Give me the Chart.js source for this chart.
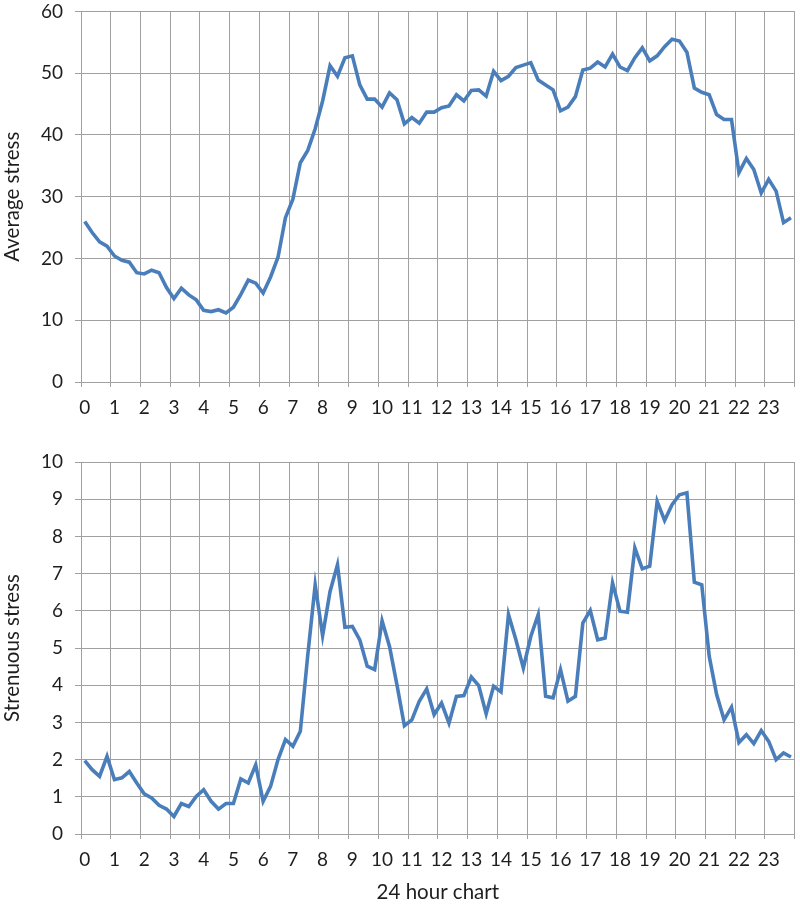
<!DOCTYPE html>
<html>
<head>
<meta charset="utf-8">
<script src="https://cdn.jsdelivr.net/npm/chart.js@4"></script>
<style>
  body { margin: 0; background: #fff; overflow: hidden; }
  canvas { position: absolute; left: 0; }
  #avg { top: -12px; }
  #strain { top: 430px; }
</style>
</head>
<body>
<canvas id="avg" width="800" height="442"></canvas>
<canvas id="strain" width="800" height="475"></canvas>
<script>
const hours = ['0', '1', '2', '3', '4', '5', '6', '7', '8', '9', '10', '11',
  '12', '13', '14', '15', '16', '17', '18', '19', '20', '21', '22', '23'];

// four samples an hour (every 15 minutes)
const avgStress = [
  26.0, 24.2, 22.7, 22.0, 20.4, 19.7, 19.4, 17.7, 17.5, 18.1, 17.7, 15.3,
  13.5, 15.2, 14.1, 13.3, 11.6, 11.4, 11.7, 11.2, 12.1, 14.2, 16.5, 16.0,
  14.4, 17.0, 20.2, 26.6, 29.6, 35.5, 37.5, 41.0, 45.5, 51.2, 49.5, 52.5,
  52.8, 48.1, 45.8, 45.8, 44.5, 46.8, 45.7, 41.8, 42.8, 41.9, 43.7, 43.7,
  44.4, 44.7, 46.5, 45.5, 47.2, 47.3, 46.3, 50.3, 48.8, 49.5, 50.9, 51.3,
  51.7, 48.9, 48.1, 47.3, 43.9, 44.5, 46.2, 50.5, 50.8, 51.8, 51.0, 53.1,
  51.0, 50.4, 52.5, 54.1, 52.0, 52.8, 54.3, 55.5, 55.2, 53.4, 47.6, 46.9,
  46.5, 43.3, 42.5, 42.5, 33.9, 36.2, 34.4, 30.6, 32.8, 30.9, 25.8, 26.6
];

const strenuousStress = [
  1.97, 1.73, 1.55, 2.09, 1.46, 1.51, 1.68, 1.37, 1.08, 0.97, 0.77, 0.67,
  0.47, 0.82, 0.74, 1.01, 1.19, 0.88, 0.67, 0.82, 0.82, 1.48, 1.37, 1.86,
  0.88, 1.28, 2.00, 2.54, 2.36, 2.76, 4.80, 6.70, 5.33, 6.52, 7.24, 5.56,
  5.58, 5.22, 4.51, 4.42, 5.73, 5.04, 4.01, 2.91, 3.07, 3.57, 3.90, 3.21,
  3.52, 2.98, 3.70, 3.72, 4.22, 3.99, 3.23, 3.97, 3.82, 5.90, 5.22, 4.46,
  5.31, 5.90, 3.70, 3.66, 4.42, 3.57, 3.70, 5.67, 6.01, 5.22, 5.27, 6.75,
  5.99, 5.96, 7.69, 7.13, 7.20, 8.94, 8.43, 8.85, 9.12, 9.17, 6.77, 6.70,
  4.78, 3.75, 3.07, 3.41, 2.46, 2.67, 2.43, 2.78, 2.49, 2.00, 2.18, 2.07
];

// one category per sample, only the first of each hour is labelled
const slots = hours.flatMap(h => [h, '', '', '']);

const GRID = '#a0a0a0';
const LINE = '#4a7ebb';
const TEXT = '#1e1e1e';

Chart.defaults.font.family = 'Lato, "Open Sans", sans-serif';
Chart.defaults.font.size = 19;
Chart.defaults.color = TEXT;

// grid line only at hour boundaries (and the closing right edge)
const hourGrid = ctx => (ctx.type !== 'tick' || ctx.index % 4 === 0) ? GRID : 'rgba(0,0,0,0)';

function stressChart(id, values, yTitle, yMax, yStep, padTop, xHeight, xTitle) {
  const ctx = document.getElementById(id).getContext('2d');
  return new Chart(ctx, {
    type: 'line',
    data: {
      labels: slots,
      datasets: [{
        data: values,
        borderColor: LINE,
        borderWidth: 3.6,
        pointRadius: 0,
        tension: 0,
        fill: false,
      }]
    },
    options: {
      responsive: false,
      animation: false,
      devicePixelRatio: 1,
      layout: {padding: {top: padTop, right: 4, left: 0, bottom: 0}},
      plugins: {
        legend: {display: false},
        tooltip: {enabled: false},
      },
      scales: {
        x: {
          type: 'category',
          offset: true,
          grid: {offset: true, color: hourGrid, lineWidth: 1, tickLength: 5},
          border: {color: GRID},
          ticks: {autoSkip: false, maxRotation: 0, minRotation: 0, padding: 9},
          title: {display: !!xTitle, text: xTitle || '', font: {size: 20.5}, padding: {top: 0, bottom: 0}},
          afterFit: s => { s.height = xHeight; },
        },
        y: {
          min: 0,
          max: yMax,
          ticks: {stepSize: yStep, padding: 12},
          grid: {color: GRID, lineWidth: 1, tickLength: 6},
          border: {color: GRID},
          title: {display: true, text: yTitle, font: {size: 20.5}, padding: {top: 0, bottom: 0}},
          afterFit: s => { s.width = 81; },
        },
      },
    },
  });
}

stressChart('avg', avgStress, 'Average stress', 60, 10, 10, 48);
stressChart('strain', strenuousStress, 'Strenuous stress', 10, 1, 32, 71, '24 hour chart');
</script>
</body>
</html>
